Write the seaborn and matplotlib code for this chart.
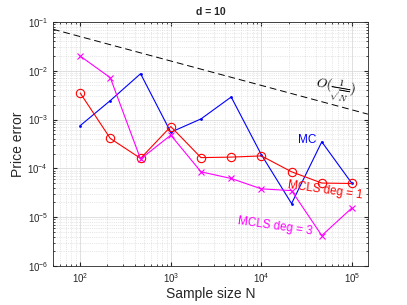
import numpy as np
import pandas as pd
import seaborn as sns
import matplotlib
matplotlib.use("Agg")
import matplotlib.pyplot as plt

# sample sizes (logspace 10^2 .. 10^5, 10 points)
sample_n = [100, 215, 464, 1000, 2154, 4642, 10000, 21544, 46416, 100000]

err_mc = [7.5e-4, 2.45e-3, 8.7e-3, 5.5e-4, 1.03e-3, 2.9e-3, 1.9e-4, 1.9e-5, 3.5e-4, 4.9e-5]
err_mcls1 = [3.5e-3, 4.1e-4, 1.6e-4, 7.2e-4, 1.66e-4, 1.7e-4, 1.8e-4, 8.5e-5, 5.0e-5, 4.9e-5]
err_mcls3 = [2.0e-2, 7.2e-3, 1.55e-4, 4.8e-4, 8.5e-5, 6.2e-5, 3.8e-5, 3.5e-5, 4.2e-6, 1.55e-5]

# reference slope line O(1/sqrt(N))
ref_n = [50, 150000]
ref_err = [0.071, 1.29e-3]

sns.set_style("ticks")
plt.rcParams['font.family'] = ['Liberation Sans', 'DejaVu Sans']
plt.rcParams['mathtext.fontset'] = 'cm'

fig = plt.figure(figsize=(4.07, 3.05), dpi=100)
ax = fig.add_axes([0.130, 0.128, 0.774, 0.800])

df_mc = pd.DataFrame({"N": sample_n, "err": err_mc})
df_l1 = pd.DataFrame({"N": sample_n, "err": err_mcls1})
df_l3 = pd.DataFrame({"N": sample_n, "err": err_mcls3})
df_ref = pd.DataFrame({"N": ref_n, "err": ref_err})

sns.lineplot(data=df_mc, x="N", y="err", ax=ax, color=(0, 0, 1), linewidth=0.8,
             marker=".", markersize=4, markeredgewidth=0)
sns.lineplot(data=df_l1, x="N", y="err", ax=ax, color=(1, 0, 0), linewidth=0.8,
             marker="o", markersize=6, markerfacecolor="none", markeredgecolor=(1, 0, 0),
             markeredgewidth=0.8)
sns.lineplot(data=df_l3, x="N", y="err", ax=ax, color=(1, 0, 1), linewidth=0.8,
             marker="x", markersize=4, markeredgecolor=(1, 0, 1), markeredgewidth=0.8)
sns.lineplot(data=df_ref, x="N", y="err", ax=ax, color="k", linewidth=0.7,
             linestyle=(0, (7, 4)))

ax.set_xscale("log")
ax.set_yscale("log")
ax.set_xlim(50, 1.5e5)
ax.set_ylim(1e-6, 1e-1)

ax.grid(True, which="major", color="0.86", linewidth=0.6, linestyle="-")
ax.grid(True, which="minor", color="0.82", linewidth=0.5, linestyle=":")
ax.set_axisbelow(True)
for s in ax.spines.values():
    s.set_color("0.15")
    s.set_linewidth(0.6)
ax.tick_params(which="both", direction="in", top=True, right=True, colors="0.15",
               labelsize=7)
ax.tick_params(which="major", length=3)
ax.tick_params(which="minor", length=1.5)

ax.set_xlabel("Sample size N", fontsize=10, color="0.15", labelpad=2)
ax.set_ylabel("Price error", fontsize=10, color="0.15", labelpad=2)
ax.set_title("d = 10", fontsize=7.5, fontweight="bold", pad=5)

ax.text(32000, 3.8e-4, "MC", color=(0, 0, 1), fontsize=8.5, ha="center", va="center")
ax.text(51000, 3.6e-5, "MCLS deg = 1", color=(1, 0, 0), fontsize=8.5,
        ha="center", va="center", rotation=-8)
ax.text(14100, 6.6e-6, "MCLS deg = 3", color=(1, 0, 1), fontsize=8.5,
        ha="center", va="center", rotation=-8)
ax.text(66000, 4.1e-3, r"$O(\frac{1}{\sqrt{N}})$", color="k", fontsize=9.5,
        ha="center", va="center", rotation=-10)

fig.savefig("out.png", dpi=100)
